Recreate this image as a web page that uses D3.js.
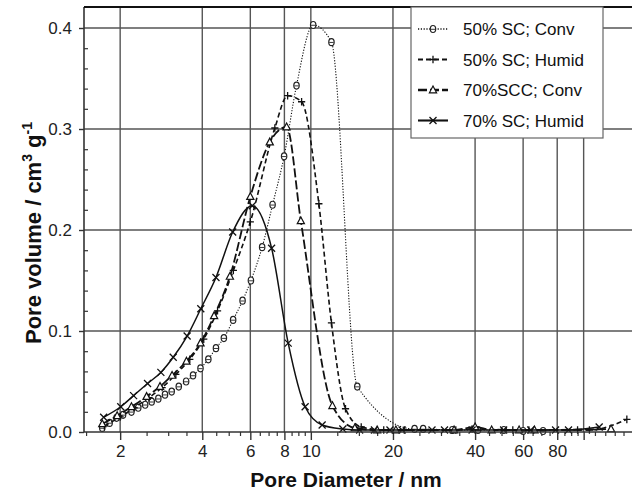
<!DOCTYPE html>
<html>
<head>
<meta charset="utf-8">
<script src="https://cdn.jsdelivr.net/npm/d3@7"></script>
<style>
  body { margin: 0; background: #fff; }
  svg { display: block; font-family: "Liberation Sans", Arial, sans-serif; }
</style>
</head>
<body>
<div id="chart"></div>
<script>
// pore diameter (nm) and pore volume (cm3/g)
var conv50X = [1.72, 1.83, 1.94, 2.05, 2.20, 2.33, 2.47, 2.61, 2.76, 2.92, 3.09, 3.28, 3.49, 3.70, 3.94,
               4.21, 4.49, 4.80, 5.19, 5.62, 6.03, 6.63, 7.24, 7.98, 8.86, 10.2, 11.9, 14.8, 24.0, 25.8,
               33, 41, 51, 60, 71];
var conv50Y = [0.004, 0.009, 0.014, 0.017, 0.020, 0.024, 0.027, 0.030, 0.033, 0.037, 0.040, 0.045, 0.050, 0.056, 0.063,
               0.072, 0.083, 0.093, 0.111, 0.130, 0.150, 0.183, 0.225, 0.273, 0.343, 0.403, 0.386, 0.045, 0.003, 0.003,
               0.002, 0.002, 0.002, 0.001, 0.001];

var humid50X = [1.75, 2.0, 2.25, 2.55, 2.85, 3.2, 3.6, 4.05, 4.55, 5.2, 6.0, 7.38, 8.22, 9.25, 10.7, 11.9, 13.4,
                15.3, 18.5, 22, 34, 39, 55, 63, 95, 105, 144];
var humid50Y = [0.006, 0.015, 0.024, 0.034, 0.044, 0.057, 0.072, 0.092, 0.120, 0.160, 0.208, 0.301, 0.333, 0.327, 0.226, 0.108, 0.023,
                0.005, 0.002, 0.002, 0.002, 0.003, 0.002, 0.002, 0.002, 0.002, 0.0125];

var scc70X = [1.72, 1.95, 2.2, 2.5, 2.8, 3.1, 3.5, 3.94, 4.42, 5.05, 6.0, 7.07, 8.15, 9.19, 12.0,
              14.5, 17.5, 20.5, 33.5, 40, 46, 58, 66, 126];
var scc70Y = [0.008, 0.016, 0.025, 0.035, 0.045, 0.056, 0.070, 0.088, 0.115, 0.154, 0.233, 0.287, 0.302, 0.209, 0.026,
              0.004, 0.002, 0.002, 0.002, 0.005, 0.002, 0.002, 0.002, 0.003];

var humid70X = [1.74, 2.01, 2.24, 2.52, 2.82, 3.13, 3.52, 3.95, 4.49, 5.17, 6.10, 7.18, 8.26, 9.53, 11.0, 13.1,
                15.1, 17.1, 19.5, 21.6, 27.8, 30.9, 39.0, 50.9, 64.0, 78.9, 88.0, 114];
var humid70Y = [0.0146, 0.025, 0.036, 0.048, 0.059, 0.074, 0.095, 0.122, 0.153, 0.198, 0.224, 0.182, 0.088, 0.025, 0.007, 0.003,
                0.002, 0.002, 0.002, 0.002, 0.002, 0.002, 0.002, 0.002, 0.002, 0.002, 0.002, 0.005];

var legendNames = ["50% SC; Conv", "50% SC; Humid", "70%SCC; Conv", "70% SC; Humid"];

var xTicks = [2, 4, 6, 8, 10, 20, 40, 60, 80, 100];
var xTickLabels = ["2", "4", "6", "8", "10", "20", "40", "60", "80", ""];
var xMinor = [1.5, 2.5, 3, 3.5, 4.5, 5, 5.5, 6.5, 7, 7.5, 8.5, 9, 9.5, 12.5, 15, 17.5,
              25, 30, 35, 45, 50, 55, 65, 70, 75, 85, 90, 95, 110, 120, 130, 140];
var yTicks = [0, 0.1, 0.2, 0.3, 0.4];
var yMinor = [0.02, 0.04, 0.06, 0.08, 0.12, 0.14, 0.16, 0.18, 0.22, 0.24, 0.26, 0.28, 0.32, 0.34, 0.36, 0.38];

var width = 632, height = 494;
var margin = {top: 7, right: 0, bottom: 62, left: 84};

var x = d3.scaleLog()
    .domain([1.474, 150.4])
    .range([margin.left, width - margin.right]);

var y = d3.scaleLinear()
    .domain([0, 0.4208])
    .range([height - margin.bottom, margin.top]);

var series = [
  {xs: conv50X, ys: conv50Y, dash: "1.2,1.6", sw: 1.1, mark: "theta"},
  {xs: humid50X, ys: humid50Y, dash: "5,3", sw: 1.6, mark: "plus"},
  {xs: scc70X, ys: scc70Y, dash: "9,3", sw: 1.8, mark: "tri"},
  {xs: humid70X, ys: humid70Y, dash: null, sw: 1.5, mark: "cross"}
];

var svg = d3.select("#chart").append("svg")
    .attr("width", width)
    .attr("height", height);

var x0 = margin.left, x1 = width - margin.right,
    y0 = height - margin.bottom, y1 = margin.top;

// grid
svg.append("g").attr("class", "grid")
  .selectAll("line.v")
    .data(xTicks)
  .enter().append("line")
    .attr("x1", function(d) { return x(d); })
    .attr("x2", function(d) { return x(d); })
    .attr("y1", y1).attr("y2", y0)
    .attr("stroke", "#555").attr("stroke-width", 1.4);

svg.append("g").attr("class", "grid")
  .selectAll("line.h")
    .data(yTicks.slice(1))
  .enter().append("line")
    .attr("x1", x0).attr("x2", x1)
    .attr("y1", function(d) { return y(d); })
    .attr("y2", function(d) { return y(d); })
    .attr("stroke", "#555").attr("stroke-width", 1.4);

// x axis
var xAxis = d3.axisBottom(x)
    .tickValues(xTicks)
    .tickSize(8)
    .tickPadding(5)
    .tickFormat(function(d, i) { return xTickLabels[i]; });

var gx = svg.append("g")
    .attr("transform", "translate(0," + y0 + ")")
    .call(xAxis);
gx.select(".domain").remove();
gx.selectAll("line").attr("stroke", "#333").attr("stroke-width", 1.4);
gx.selectAll("text").attr("font-size", 17).attr("fill", "#222").attr("font-family", null);

var xAxisMinor = d3.axisBottom(x).tickValues(xMinor).tickSize(4).tickFormat("");
var gxm = svg.append("g")
    .attr("transform", "translate(0," + y0 + ")")
    .call(xAxisMinor);
gxm.select(".domain").remove();
gxm.selectAll("line").attr("stroke", "#333").attr("stroke-width", 1.2);

// y axis
var yAxis = d3.axisLeft(y)
    .tickValues(yTicks)
    .tickSize(5)
    .tickPadding(7)
    .tickFormat(d3.format(".1f"));

var gy = svg.append("g")
    .attr("transform", "translate(" + x0 + ",0)")
    .call(yAxis);
gy.select(".domain").remove();
gy.selectAll("line").attr("stroke", "#333").attr("stroke-width", 1.4);
gy.selectAll("text").attr("font-size", 17).attr("fill", "#222").attr("font-family", null);

var yAxisMinor = d3.axisRight(y).tickValues(yMinor).tickSize(4).tickFormat("");
var gym = svg.append("g")
    .attr("transform", "translate(" + x0 + ",0)")
    .call(yAxisMinor);
gym.select(".domain").remove();
gym.selectAll("line").attr("stroke", "#333").attr("stroke-width", 1.2);

// curves
var line = d3.line()
    .x(function(d) { return x(d[0]); })
    .y(function(d) { return y(d[1]); })
    .curve(d3.curveMonotoneX);

function marker(g, type) {
  if (type === "theta") {
    g.append("ellipse").attr("rx", 2.7).attr("ry", 3.5)
      .attr("fill", "#fff").attr("stroke", "#222").attr("stroke-width", 1.2);
    g.append("path").attr("d", "M-2.2,0.3H2.2")
      .attr("stroke", "#222").attr("stroke-width", 0.9);
  } else if (type === "plus") {
    g.append("path").attr("d", "M-3.6,0H3.6M0,-3.8V3.8")
      .attr("stroke", "#111").attr("stroke-width", 1.3).attr("fill", "none");
  } else if (type === "tri") {
    g.append("path").attr("d", "M0,-4L3.6,2.8L-3.6,2.8Z")
      .attr("stroke", "#111").attr("stroke-width", 1.2).attr("fill", "#fff");
  } else {
    g.append("path").attr("d", "M-3.5,-3.5L3.5,3.5M3.5,-3.5L-3.5,3.5")
      .attr("stroke", "#111").attr("stroke-width", 1.3).attr("fill", "none");
  }
}

var plot = svg.append("g");

series.forEach(function(s) {
  var pts = s.xs.map(function(v, i) { return [v, s.ys[i]]; });
  plot.append("path")
      .datum(pts)
      .attr("d", line)
      .attr("fill", "none")
      .attr("stroke", "#111")
      .attr("stroke-width", s.sw)
      .attr("stroke-dasharray", s.dash);
  plot.selectAll(null)
      .data(pts)
    .enter().append("g")
      .attr("transform", function(d) { return "translate(" + x(d[0]) + "," + y(d[1]) + ")"; })
      .each(function() { marker(d3.select(this), s.mark); });
});

// frame
svg.append("line").attr("x1", x0).attr("x2", x1).attr("y1", y0).attr("y2", y0)
    .attr("stroke", "#333").attr("stroke-width", 1.6);
svg.append("line").attr("x1", x0).attr("x2", x0).attr("y1", y1).attr("y2", y0)
    .attr("stroke", "#333").attr("stroke-width", 1.6);
svg.append("line").attr("x1", x0).attr("x2", x1).attr("y1", y1).attr("y2", y1)
    .attr("stroke", "#111").attr("stroke-width", 1.8);

// axis titles
svg.append("text")
    .attr("x", (x0 + 608) / 2)
    .attr("y", 487)
    .attr("text-anchor", "middle")
    .attr("font-size", 21)
    .attr("font-weight", "bold")
    .attr("fill", "#111")
    .text("Pore Diameter / nm");

var yt = svg.append("text")
    .attr("transform", "translate(41," + 233 + ") rotate(-90)")
    .attr("text-anchor", "middle")
    .attr("font-size", 22)
    .attr("font-weight", "bold")
    .attr("fill", "#111");
yt.append("tspan").text("Pore volume / cm");
yt.append("tspan").attr("font-size", 14).attr("dy", -9).text("3");
yt.append("tspan").attr("dy", 9).text(" g");
yt.append("tspan").attr("font-size", 14).attr("dy", -9).text("-1");

// legend
var lg = svg.append("g");
lg.append("rect")
    .attr("x", 411).attr("y", y1)
    .attr("width", 192).attr("height", 131)
    .attr("fill", "#fff").attr("stroke", "#666").attr("stroke-width", 1.2);

series.forEach(function(s, i) {
  var ry = 29 + i * 30.5;
  lg.append("line")
      .attr("x1", 418).attr("x2", 448).attr("y1", ry).attr("y2", ry)
      .attr("stroke", "#111").attr("stroke-width", s.sw + 0.6)
      .attr("stroke-dasharray", s.dash);
  var m = lg.append("g").attr("transform", "translate(433," + ry + ")");
  marker(m, s.mark);
  lg.append("text")
      .attr("x", 463).attr("y", ry + 6)
      .attr("font-size", 17)
      .attr("fill", "#111")
      .text(legendNames[i]);
});
</script>
</body>
</html>
